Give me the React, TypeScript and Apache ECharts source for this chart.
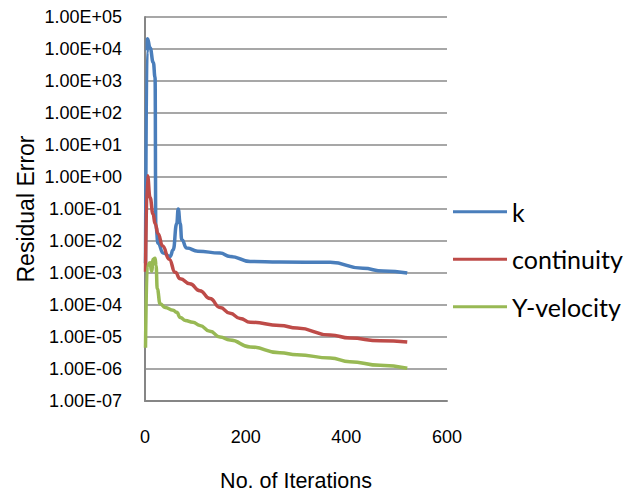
import React, { useEffect, useRef } from "react";
import * as echarts from "echarts";

// ---- data ----
const seriesNames = ["k", "continuity", "Y-velocity"];

const kIter = [1, 4, 5, 10, 16.5, 20, 21.5, 26, 36, 50, 56, 63, 66, 70, 73, 83, 105, 149, 169, 209, 268, 368, 433, 473, 521];
const kValues = [2e-3, 8e3, 2.1e4, 1.1e4, 3.8e3, 1.3e3, 0.03, 8.5e-3, 4.2e-3, 3.3e-3, 5.3e-3, 0.035, 0.1, 0.035, 0.011, 6e-3, 4.8e-3, 4.2e-3, 3.3e-3, 2.3e-3, 2.2e-3, 2.15e-3, 1.4e-3, 1.15e-3, 1e-3];

const contIter = [1, 5, 10, 16, 20, 26, 35, 48, 60, 70, 89, 109, 129, 149, 169, 189, 209, 268, 302, 368, 407, 467, 521];
const contValues = [1.1e-3, 1.1, 0.23, 0.07, 0.035, 0.017, 7e-3, 2.7e-3, 1.05e-3, 6.6e-4, 4.6e-4, 2.8e-4, 1.6e-4, 8.3e-5, 5.5e-5, 3.8e-5, 2.9e-5, 2.3e-5, 1.9e-5, 1.15e-5, 9.3e-6, 7.6e-6, 7e-6];

const yvelIter = [1, 4.6, 10, 13, 16.5, 20, 22, 24.4, 30, 40, 56, 63, 70, 80, 95, 109, 129, 149, 169, 209, 268, 302, 368, 407, 467, 521];
const yvelValues = [4.6e-6, 1.7e-3, 2.1e-3, 1.15e-3, 2.7e-3, 2.9e-3, 1.7e-3, 3.2e-4, 1.1e-4, 8.4e-5, 6.8e-5, 5.9e-5, 4.1e-5, 3.3e-5, 2.9e-5, 2.3e-5, 1.5e-5, 1e-5, 8e-6, 4.9e-6, 3.2e-6, 2.8e-6, 2.2e-6, 1.7e-6, 1.3e-6, 1.05e-6];

const xTicks = [0, 200, 400, 600];
const yTickLabels = [
  "1.00E-07", "1.00E-06", "1.00E-05", "1.00E-04", "1.00E-03", "1.00E-02", "1.00E-01",
  "1.00E+00", "1.00E+01", "1.00E+02", "1.00E+03", "1.00E+04", "1.00E+05",
];

const colors = ["#4A7EBB", "#BE4B48", "#98B954"];

const pair = (xs: number[], ys: number[]) => xs.map((x, i) => [x, ys[i]]);

export default function App() {
  const ref = useRef<HTMLDivElement>(null);
  useEffect(() => {
    if (!ref.current) return;
    const chart = echarts.init(ref.current, undefined, { renderer: "svg" });
    const datasets = [pair(kIter, kValues), pair(contIter, contValues), pair(yvelIter, yvelValues)];
    chart.setOption({
      animation: false,
      color: colors,
      grid: { left: 145, right: 192, top: 17, bottom: 90, containLabel: false },
      legend: {
        orient: "vertical",
        left: 453,
        top: 198,
        padding: 0,
        icon: "rect",
        itemWidth: 54,
        itemHeight: 3,
        itemGap: 20,
        data: seriesNames,
        textStyle: { fontFamily: "Lato", fontSize: 25, color: "#000", lineHeight: 27.5 },
      },
      xAxis: {
        type: "value",
        min: xTicks[0],
        max: xTicks[xTicks.length - 1],
        interval: 200,
        name: "No. of Iterations",
        nameLocation: "middle",
        nameGap: 69,
        nameTextStyle: { fontFamily: "Liberation Sans", fontSize: 21.5, color: "#000" },
        axisLine: { lineStyle: { color: "#868686", width: 2 } },
        axisTick: { show: false },
        splitLine: { show: false },
        axisLabel: { fontFamily: "Liberation Sans", fontSize: 18, color: "#000", margin: 27 },
      },
      yAxis: {
        type: "log",
        logBase: 10,
        min: 1e-7,
        max: 1e5,
        interval: 1,
        name: "Residual Error",
        nameLocation: "middle",
        nameGap: 108,
        nameTextStyle: { fontFamily: "Liberation Sans", fontSize: 23, color: "#000" },
        axisLine: { show: true, lineStyle: { color: "#868686", width: 2 } },
        axisTick: { show: false },
        splitLine: { show: true, lineStyle: { color: "#8a8a8a", width: 1.5 } },
        axisLabel: {
          fontFamily: "Liberation Sans",
          fontSize: 18,
          color: "#000",
          margin: 23,
          formatter: (v: number) => {
            const e = Math.round(Math.log10(v));
            return yTickLabels[e + 7] ?? "";
          },
        },
      },
      series: seriesNames.map((name, i) => ({
        name,
        type: "line",
        data: datasets[i],
        showSymbol: false,
        symbol: "none",
        smooth: 0.5,
        smoothMonotone: "x",
        lineStyle: { width: 3.5, color: colors[i] },
      })),
    });
    return () => chart.dispose();
  }, []);
  return <div ref={ref} style={{ width: 639, height: 497, marginLeft: -8, marginTop: -8 }} />;
}
